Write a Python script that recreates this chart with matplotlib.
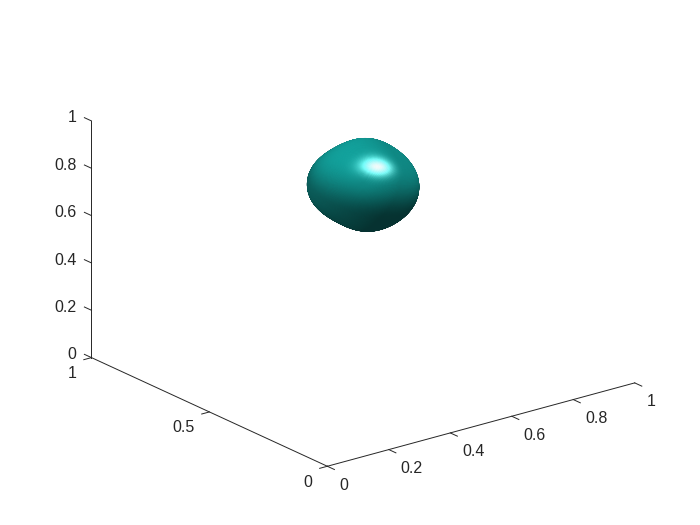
import numpy as np
import matplotlib
matplotlib.use('Agg')
import matplotlib.pyplot as plt

plt.rcParams['font.family'] = ['Liberation Sans', 'DejaVu Sans']

# tick values and labels
xTicks = [0, 0.2, 0.4, 0.6, 0.8, 1]
yTicks = [0, 0.5, 1]
zTicks = [0, 0.2, 0.4, 0.6, 0.8, 1]

# blob, outline: pixels from the centre, every 22.5 deg
blobCenter = [0.5, 0.5, 0.781]
blobRadii = [56, 53, 49, 49, 46, 47, 49, 53, 56, 53, 46, 45, 46, 48, 50, 55]
blobDepth = 50
innerRadii = [58, 44]

ELEV = 20.7
AZIM = -127.5
Z_ASPECT = 0.653
PX_PER_UNIT = 388
TEXT_COLOR = '#262626'

def smooth_radii(radii, n):
    # keep the low harmonics only, closes the outline without lumps
    coef = np.fft.rfft(radii)
    return np.fft.irfft(coef[:5], n) * n / len(radii)

def view_basis():
    a = np.radians(AZIM)
    e = np.radians(ELEV)
    right = np.array([-np.sin(a), np.cos(a), 0])
    up = np.array([-np.sin(e) * np.cos(a), -np.sin(e) * np.sin(a), np.cos(e)])
    toward = np.array([np.cos(e) * np.cos(a), np.cos(e) * np.sin(a), np.sin(e)])
    return right, up, toward

def blob_mesh():
    angle = np.linspace(0, 2 * np.pi, 241)
    polar = np.linspace(0.002, np.pi - 0.002, 121)
    r = smooth_radii(blobRadii, 240)
    r = np.append(r, r[0])
    A, P = np.meshgrid(angle, polar)
    R = np.tile(r, (len(polar), 1))
    # ellipsoid in the middle, outline at the rim
    inner = 1 / np.sqrt((np.cos(A) / innerRadii[0]) ** 2 + (np.sin(A) / innerRadii[1]) ** 2)
    R = inner + (R - inner) * np.sin(P) ** 6
    U = R * np.sin(P) * np.cos(A)
    V = R * np.sin(P) * np.sin(A)
    W = blobDepth * np.cos(P)
    return U, V, W

def shade(U, V, W):
    du = np.stack([np.gradient(c, axis=1) for c in (U, V, W)], axis=-1)
    dp = np.stack([np.gradient(c, axis=0) for c in (U, V, W)], axis=-1)
    normal = np.cross(du, dp)
    length = np.linalg.norm(normal, axis=-1, keepdims=True)
    normal = normal / np.maximum(length, 1e-9)
    # flip any inward normals
    pos = np.stack([U, V, W], axis=-1)
    flip = np.sum(normal * pos, axis=-1) < 0
    normal[flip] *= -1
    light = np.array([0.355, 0.794, 0.503])
    light = light / np.linalg.norm(light)
    fill = np.array([-0.8, 0.2, 0.55])
    fill = fill / np.linalg.norm(fill)
    eye = np.array([0, 0, 1.0])
    half = (light + eye) / np.linalg.norm(light + eye)
    t = np.clip((normal @ light + 0.25) / 1.25, 0, 1)
    diffuse = t * t * (3 - 2 * t)
    filled = np.clip(normal @ fill, 0, 1)
    spec = np.clip(normal @ half, 0, 1) ** 40
    base = np.array([0.07, 0.60, 0.58])
    amount = 0.33 + 0.57 * diffuse + 0.3 * filled
    rgb = base[None, None, :] * amount[..., None] + 0.9 * spec[..., None]
    rgb = np.clip(rgb, 0, 1)
    return np.dstack([rgb, np.ones(U.shape)])

fig = plt.figure(figsize=(7, 5.25), dpi=100)
ax = fig.add_axes([6 / 700, 3.5 / 525, 1, 1], projection='3d')
ax.set_proj_type('ortho')
ax.view_init(elev=ELEV, azim=AZIM, roll=0)
ax.set_box_aspect((1, 1, Z_ASPECT), zoom=1.116)
ax.set_xlim(0, 1, view_margin=0)
ax.set_ylim(0, 1, view_margin=0)
ax.set_zlim(0, 1, view_margin=0)
ax.set_xticks([])
ax.set_yticks([])
ax.set_zticks([])
ax.set_axis_off()

# surface: outline is in screen pixels, turn it into data units
right, up, toward = view_basis()
U, V, W = blob_mesh()
X = blobCenter[0] + (U * right[0] + V * up[0] + W * toward[0]) / PX_PER_UNIT
Y = blobCenter[1] + (U * right[1] + V * up[1] + W * toward[1]) / PX_PER_UNIT
Z = blobCenter[2] + (U * right[2] + V * up[2] + W * toward[2]) / PX_PER_UNIT / Z_ASPECT
ax.plot_surface(X, Y, Z, facecolors=shade(U, V, W), rcount=U.shape[0], ccount=U.shape[1],
                shade=False, linewidth=0.3, antialiased=True)

# axis lines and ticks, drawn the way the original has them
line = dict(color=TEXT_COLOR, lw=0.7, clip_on=False)
ax.plot([0, 1], [0, 0], [0, 0], **line)
ax.plot([0, 0], [0, 1], [0, 0], **line)
ax.plot([0, 0], [1, 1], [0, 1], **line)

for t in xTicks:
    ax.plot([t, t], [0, -0.03], [0, 0], **line)
    ax.text(t, -0.051, -0.057, str(t), ha='left', va='center', fontsize=11.5, color=TEXT_COLOR)
for t in yTicks:
    ax.plot([0, -0.025], [t, t], [0, 0], **line)
    ax.text(-0.049, t, -0.05, str(t), ha='right', va='center', fontsize=11.5, color=TEXT_COLOR)
for t in zTicks:
    ax.plot([0, 0], [1, 1.03], [t, t], **line)
    ax.text(0, 1.064, t - 0.017, str(t), ha='right', va='center', fontsize=11.5, color=TEXT_COLOR)

fig.savefig('out.png', dpi=100)
